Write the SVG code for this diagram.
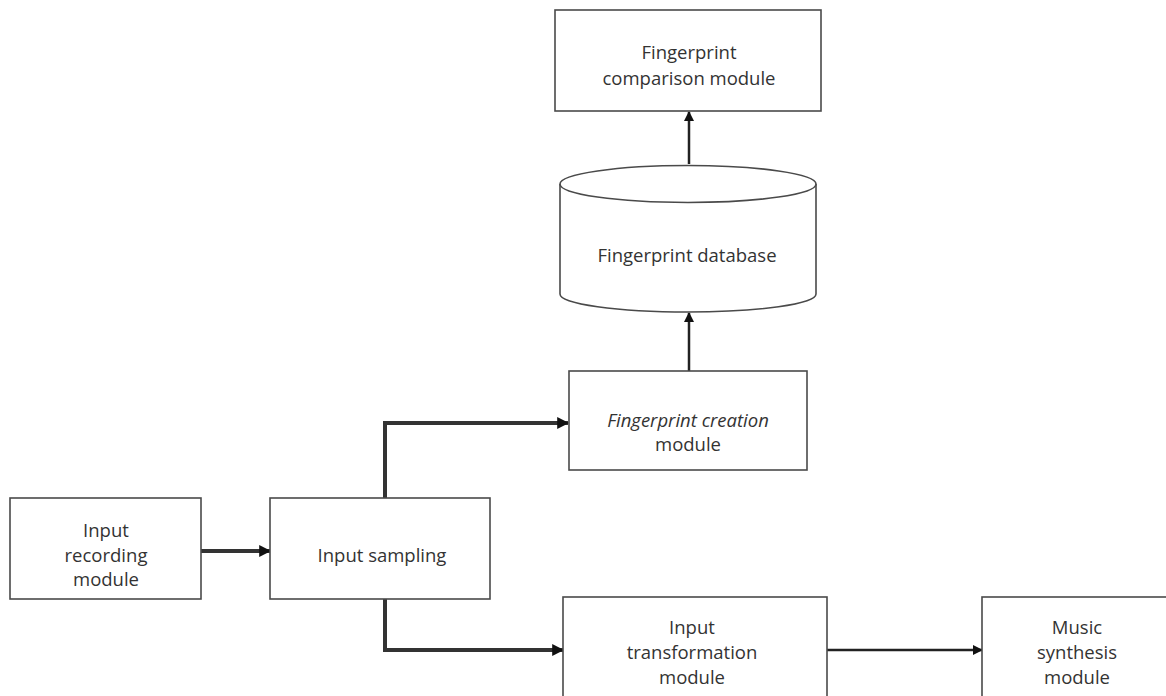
<svg xmlns="http://www.w3.org/2000/svg" width="1166" height="696" viewBox="0 0 1166 696">
  <style>
    .box { fill: #ffffff; stroke: #4a4a4a; stroke-width: 1.6; }
    .lbl { font-family: "Open Sans", "Liberation Sans", sans-serif; font-size: 18.5px; fill: #333333; text-anchor: middle; }
    .it { font-style: italic; }
    .wire { fill: none; stroke: #222222; stroke-width: 2.5; }
    .heavy { fill: none; stroke: #333333; stroke-width: 4; }
  </style>
  <defs>
    <marker id="head" viewBox="0 0 10 10" refX="9" refY="5" markerWidth="4" markerHeight="4" orient="auto" markerUnits="strokeWidth">
      <path d="M0,0 L10,5 L0,10 z" fill="#111111"/>
    </marker>
    <marker id="headS" viewBox="0 0 10 10" refX="9" refY="5" markerWidth="3" markerHeight="3" orient="auto" markerUnits="strokeWidth">
      <path d="M0,0 L10,5 L0,10 z" fill="#111111"/>
    </marker>
  </defs>
  <rect width="1166" height="696" fill="#ffffff"/>

  <g id="connectors">
    <line class="wire" x1="689" y1="164" x2="689" y2="112" marker-end="url(#head)"/>
    <line class="wire" x1="689" y1="371" x2="689" y2="313" marker-end="url(#head)"/>
    <line class="heavy" x1="201" y1="551" x2="270" y2="551" marker-end="url(#headS)"/>
    <polyline class="heavy" points="385,498 385,423 568,423" marker-end="url(#headS)"/>
    <polyline class="heavy" points="385,599 385,650 563,650" marker-end="url(#headS)"/>
    <line class="wire" x1="827" y1="650" x2="982" y2="650" marker-end="url(#head)"/>
  </g>

  <g id="comparison">
    <rect class="box" x="555" y="10" width="266" height="101"/>
    <text class="lbl" x="689" y="59">Fingerprint</text>
    <text class="lbl" x="689" y="85">comparison module</text>
  </g>

  <g id="database">
    <path class="box" d="M560,184 L560,294 A128,18 0 0 0 816,294 L816,184"/>
    <ellipse class="box" cx="688" cy="184" rx="128" ry="18.5"/>
    <text class="lbl" x="687" y="262">Fingerprint database</text>
  </g>

  <g id="creation">
    <rect class="box" x="569" y="371" width="238" height="99"/>
    <text class="lbl it" x="688" y="427">Fingerprint creation</text>
    <text class="lbl" x="688" y="451">module</text>
  </g>

  <g id="recording">
    <rect class="box" x="10" y="498" width="191" height="101"/>
    <text class="lbl" x="106" y="537">Input</text>
    <text class="lbl" x="106" y="562">recording</text>
    <text class="lbl" x="106" y="586">module</text>
  </g>

  <g id="sampling">
    <rect class="box" x="270" y="498" width="220" height="101"/>
    <text class="lbl" x="382" y="562">Input sampling</text>
  </g>

  <g id="transformation">
    <rect class="box" x="563" y="597" width="264" height="110"/>
    <text class="lbl" x="692" y="634">Input</text>
    <text class="lbl" x="692" y="659">transformation</text>
    <text class="lbl" x="692" y="684">module</text>
  </g>

  <g id="synthesis">
    <rect class="box" x="982" y="597" width="200" height="110"/>
    <text class="lbl" x="1077" y="634">Music</text>
    <text class="lbl" x="1077" y="659">synthesis</text>
    <text class="lbl" x="1077" y="684">module</text>
  </g>
</svg>
